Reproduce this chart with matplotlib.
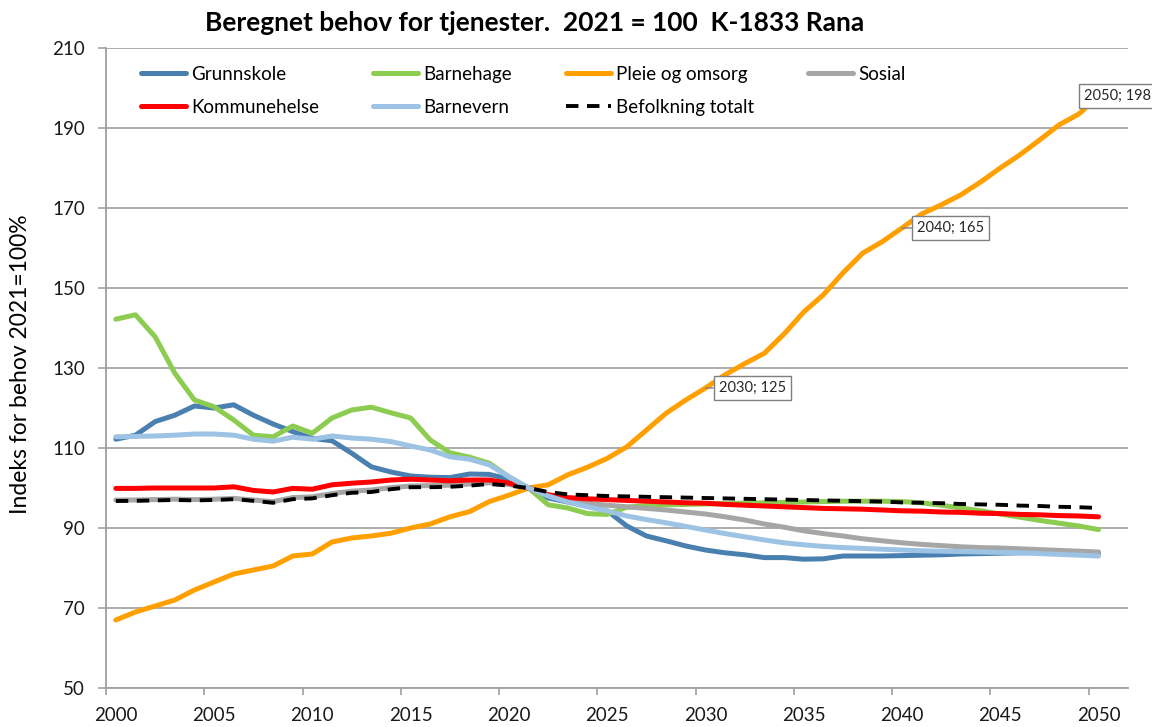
import matplotlib
matplotlib.use("Agg")
import matplotlib.pyplot as plt
import numpy as np

plt.rcParams['font.family'] = ['Lato', 'DejaVu Sans']

years = list(range(2000, 2051))

grunnskole = [112.2, 113.2, 116.6, 118.2, 120.5, 120.0, 120.8, 118.2, 116.0, 114.1,
              112.4, 111.8, 108.7, 105.3, 104.0, 103.0, 102.7, 102.6, 103.5, 103.4,
              102.2, 100.0, 97.5, 96.5, 95.5, 94.3, 90.5, 88.0, 86.8, 85.5,
              84.5, 83.8, 83.3, 82.6, 82.6, 82.2, 82.3, 83.0, 83.0, 83.0,
              83.1, 83.2, 83.3, 83.5, 83.6, 83.7, 83.8, 83.9, 84.0, 83.9, 83.7]
barnehage = [142.2, 143.3, 137.8, 128.7, 122.0, 120.3, 117.0, 113.2, 112.8, 115.5,
             113.7, 117.5, 119.5, 120.2, 118.8, 117.5, 112.0, 108.8, 107.7, 106.2,
             102.8, 100.0, 95.8, 95.0, 93.6, 93.4, 95.2, 95.6, 95.8, 95.9,
             96.0, 96.1, 96.2, 96.3, 96.4, 96.5, 96.6, 96.7, 96.7, 96.7,
             96.6, 96.3, 95.7, 95.0, 94.3, 93.5, 92.7, 91.9, 91.2, 90.5, 89.6]
pleie = [67.0, 69.0, 70.5, 72.0, 74.5, 76.5, 78.5, 79.5, 80.5, 83.0,
         83.5, 86.5, 87.5, 88.0, 88.7, 90.0, 91.0, 92.8, 94.1, 96.6,
         98.2, 100.0, 100.8, 103.3, 105.2, 107.4, 110.3, 114.5, 118.7, 122.0,
         125.0, 128.3, 131.1, 133.7, 138.5, 144.0, 148.3, 153.8, 158.7, 161.6,
         165.0, 168.5, 170.8, 173.3, 176.5, 180.0, 183.3, 187.0, 190.8, 193.5, 198.0]
sosial = [97.0, 97.0, 97.1, 97.2, 97.1, 97.2, 97.4, 97.0, 96.6, 97.6,
          97.8, 98.6, 99.2, 99.5, 100.1, 100.5, 100.6, 100.7, 101.0, 101.3,
          100.9, 100.0, 98.3, 97.0, 96.2, 95.7, 95.3, 94.9, 94.5, 94.0,
          93.5, 92.8, 92.0, 91.0, 90.2, 89.3, 88.6, 88.0, 87.3, 86.8,
          86.3, 85.9, 85.6, 85.3, 85.1, 85.0, 84.8, 84.6, 84.4, 84.2, 84.0]
kommunehelse = [99.9, 99.9, 100.0, 100.0, 100.0, 100.0, 100.3, 99.4, 99.0, 99.9,
                99.7, 100.8, 101.2, 101.5, 102.0, 102.2, 102.0, 101.8, 102.0, 102.0,
                101.2, 100.0, 98.3, 97.6, 97.3, 97.1, 96.9, 96.7, 96.5, 96.3,
                96.2, 95.9, 95.7, 95.5, 95.3, 95.1, 94.9, 94.8, 94.7, 94.5,
                94.3, 94.2, 94.0, 93.9, 93.7, 93.6, 93.4, 93.3, 93.1, 93.0, 92.8]
barnevern = [112.8, 112.9, 113.0, 113.2, 113.5, 113.5, 113.2, 112.2, 111.7, 112.7,
             112.2, 113.0, 112.5, 112.2, 111.6, 110.5, 109.5, 107.8, 107.2, 105.8,
             102.8, 100.0, 98.0, 96.5, 95.3, 94.3, 93.0, 92.1, 91.3, 90.4,
             89.5, 88.6, 87.8, 87.0, 86.3, 85.8, 85.4, 85.1, 84.9, 84.7,
             84.5, 84.3, 84.2, 84.1, 84.0, 83.9, 83.8, 83.6, 83.4, 83.2, 83.0]
befolkning = [96.75, 96.8, 96.9, 97.0, 96.9, 97.0, 97.2, 96.8, 96.3, 97.2,
              97.4, 98.2, 98.8, 99.0, 99.7, 100.2, 100.2, 100.3, 100.6, 101.0,
              100.6, 100.0, 99.0, 98.4, 98.2, 98.0, 97.9, 97.8, 97.7, 97.6,
              97.5, 97.4, 97.3, 97.2, 97.1, 97.0, 96.9, 96.8, 96.7, 96.6,
              96.4, 96.3, 96.2, 96.0, 95.9, 95.8, 95.6, 95.5, 95.3, 95.2, 95.0]

labelled_years = [2030, 2040, 2050]

fig = plt.figure(figsize=(11.52, 7.27), dpi=100)
ax = fig.add_axes([106 / 1152, 1 - 688 / 727, 1022 / 1152, 640 / 727])

lw = 3.6
ax.plot(years, grunnskole, color='#4a80b0', lw=lw, label='Grunnskole', solid_capstyle='round')
ax.plot(years, barnehage, color='#8ccc50', lw=lw, label='Barnehage', solid_capstyle='round')
ax.plot(years, pleie, color='#ffa000', lw=lw, label='Pleie og omsorg', solid_capstyle='round')
ax.plot(years, sosial, color='#a6a6a6', lw=lw, label='Sosial', solid_capstyle='round')
ax.plot(years, kommunehelse, color='#ff0000', lw=lw, label='Kommunehelse', solid_capstyle='round')
ax.plot(years, barnevern, color='#9cc3e4', lw=lw, label='Barnevern', solid_capstyle='round')
ax.plot(years, befolkning, color='black', lw=2.8, ls=(0, (3.2, 2.2)), label='Befolkning totalt')

ax.set_xlim(1999.5, 2051.5)
ax.set_ylim(50, 210)
ax.set_yticks(range(50, 211, 20))
ax.set_xticks(range(2000, 2051, 5))
ax.set_xticks(np.arange(1999.5, 2050, 5), minor=True)
ax.tick_params(axis='x', which='major', length=0, pad=14, labelsize=13.5, labelcolor='#1a1a1a')
ax.tick_params(axis='x', which='minor', length=5, width=1.2, color='#a0a0a0', direction='out')
ax.tick_params(axis='y', length=6, width=1.2, color='#a0a0a0', pad=9, labelsize=13.5, labelcolor='#1a1a1a')

ax.grid(axis='y', color='#a6a6a6', lw=1.3)
ax.set_axisbelow(True)
for s in ['top', 'right']:
    ax.spines[s].set_visible(False)
for s in ['left', 'bottom']:
    ax.spines[s].set_color('#a0a0a0')
    ax.spines[s].set_linewidth(1.3)

# data labels on Pleie og omsorg
offsets = {2030: 9.5, 2040: 11, 2050: -10.5}
for yr in labelled_years:
    val = pleie[years.index(yr)]
    arrow = None
    if offsets[yr] > 0:
        arrow = dict(arrowstyle='-', color='#7f7f7f', lw=1, shrinkA=0, shrinkB=0)
    ax.annotate(f"{yr}; {val:.0f}", xy=(yr, val), xytext=(offsets[yr], 0),
                textcoords='offset points', ha='left', va='center', fontsize=10.5,
                color='#262626', zorder=10, annotation_clip=False, arrowprops=arrow,
                bbox=dict(boxstyle='square,pad=0.35', fc='white', ec='#7f7f7f', lw=1))

handles, labels = ax.get_legend_handles_labels()
order = [0, 4, 1, 5, 2, 6, 3]
leg = fig.legend([handles[i] for i in order], [labels[i] for i in order],
                 loc='upper left', bbox_to_anchor=(141 / 1152, 1 - 66 / 727),
                 ncol=4, frameon=False, fontsize=13.5, handlelength=2.4,
                 handletextpad=0.3, columnspacing=2.85, labelspacing=0.85,
                 borderpad=0, borderaxespad=0)

fig.text(535 / 1152, 1 - 23 / 727, "Beregnet behov for tjenester.  2021 = 100  K-1833 Rana",
         ha='center', va='center', fontsize=19, fontweight='bold')
fig.text(21 / 1152, 1 - 364 / 727, "Indeks for behov 2021=100%", rotation=90,
         ha='center', va='center', fontsize=16.5)

fig.savefig("out.png", dpi=100)
